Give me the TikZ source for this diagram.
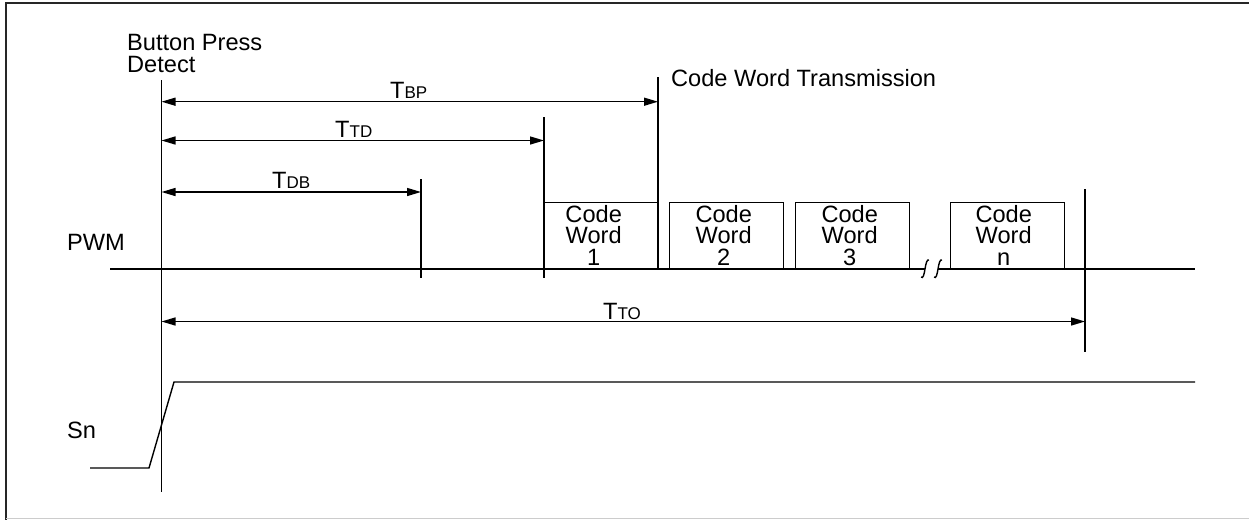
\documentclass[tikz,border=0pt]{standalone}
\usepackage{fontspec}
\setmainfont{Liberation Sans}
\usetikzlibrary{arrows.meta}
\newcommand\sbs[1]{{\fontsize{17}{18}\selectfont #1}}
\begin{document}
\begin{tikzpicture}[x=1pt,y=-1pt,
  every node/.style={inner sep=0pt, font=\fontsize{23.6}{21.5}\selectfont},
  wire/.style={line width=1.4pt},
  dim/.style={line width=1.4pt, {Triangle[length=14pt,width=8pt]}-{Triangle[length=14pt,width=8pt]}},
  cwbox/.style={draw, line width=1.4pt, minimum width=114pt, minimum height=66pt, anchor=south west},
  cwtext/.style={align=center, anchor=north},
  lbl/.style={anchor=base west}]
\useasboundingbox (0,0) rectangle (1249,520);
% frame
\draw[line width=2.3pt, black!85] (1249,2.8) -- (6.2,2.8) -- (6.2,520);
\draw[line width=1.5pt, black!20] (6,518.6) -- (1249,518.6);

% vertical markers
\coordinate (bpT) at (161.5,80);   \coordinate (bpB) at (161.5,492);
\coordinate (txT) at (658,77);     \coordinate (txB) at (658,269);
\coordinate (tdT) at (544,117);    \coordinate (tdB) at (544,278);
\coordinate (dbT) at (421,179);    \coordinate (dbB) at (421,278);
\coordinate (toT) at (1085,189);   \coordinate (toB) at (1085,352);
\draw[wire] (bpT) -- (bpB);
\draw[wire] (txT) -- (txB);
\draw[wire] (tdT) -- (tdB);
\draw[wire] (dbT) -- (dbB);
\draw[wire] (toT) -- (toB);

% dimension arrows
\coordinate (bpA1) at (161.5,101.7); \coordinate (bpA2) at (658,101.7);
\coordinate (tdA1) at (161.5,140.5); \coordinate (tdA2) at (544,140.5);
\coordinate (dbA1) at (161.5,192);   \coordinate (dbA2) at (421,192);
\coordinate (toA1) at (161.5,321.5); \coordinate (toA2) at (1085,321.5);
\draw[dim] (bpA1) -- (bpA2);
\draw[dim] (tdA1) -- (tdA2);
\draw[dim] (dbA1) -- (dbA2);
\draw[dim] (toA1) -- (toA2);

% labels
\node[lbl] (lbp) at (390,98) {T\sbs{BP}};
\node[lbl] (ltd) at (335,137) {T\sbs{TD}};
\node[lbl] (ldb) at (272,188) {T\sbs{DB}};
\node[lbl] (lto) at (603,319) {T\sbs{TO}};
\node[lbl] (bpd1) at (127,50) {Button Press};
\node[lbl] (bpd2) at (127,72) {Detect};
\node[lbl] (cwt) at (671,86.7) {Code Word Transmission};
\node[lbl] (pwm) at (67,250) {PWM};
\node[lbl] (sn) at (67,438) {Sn};

% PWM line with break
\coordinate (pwmL) at (110,269); \coordinate (pwmR) at (1195,269);
\coordinate (brk1) at (925,269); \coordinate (brk2) at (938,269);
\draw[wire] (pwmL) -- (brk1);
\draw[wire] (brk2) -- (pwmR);
\draw[wire, shift={(925,269)}] (-4,8) .. controls (-2,10) and (-1,6) .. (0,0) .. controls (1,-6) and (2,-10) .. (4,-9);
\draw[wire, shift={(938,269)}] (-4,8) .. controls (-2,10) and (-1,6) .. (0,0) .. controls (1,-6) and (2,-10) .. (4,-9);

% code word boxes
\node[cwbox] (b1) at (544,269) {};
\node[cwbox] (b2) at (669,269) {};
\node[cwbox] (b3) at (795,269) {};
\node[cwbox] (bn) at (950,269) {};
\node[cwtext] (t1) at ([xshift=-8pt,yshift=-3.5pt]b1.north) {Code\\Word\\1};
\node[cwtext] (t2) at ([xshift=-3pt,yshift=-3.5pt]b2.north) {Code\\Word\\2};
\node[cwtext] (t3) at ([xshift=-3pt,yshift=-3.5pt]b3.north) {Code\\Word\\3};
\node[cwtext] (tn) at ([xshift=-4pt,yshift=-3.5pt]bn.north) {Code\\Word\\n};

% Sn waveform
\coordinate (sn0) at (90,468); \coordinate (sn1) at (149,468);
\coordinate (sn2) at (174,382); \coordinate (sn3) at (1195,382);
\draw[wire] (sn0) -- (sn1) -- (sn2) -- (sn3);
\end{tikzpicture}
\end{document}
